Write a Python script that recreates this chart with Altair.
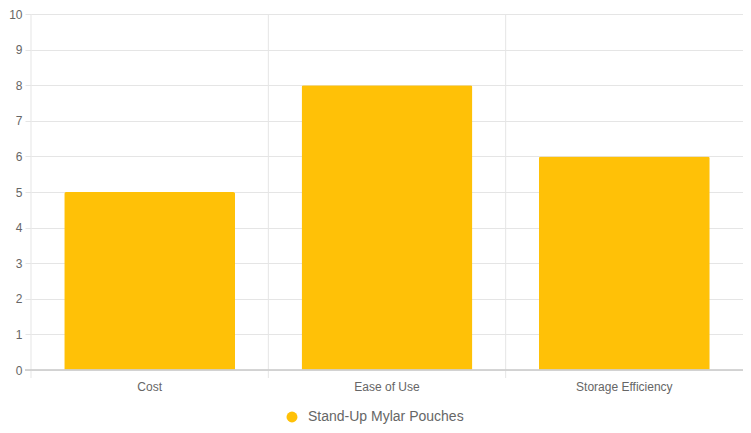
import altair as alt
import pandas as pd

categories = ["Cost", "Ease of Use", "Storage Efficiency"]
values = [5, 8, 6]
series_name = "Stand-Up Mylar Pouches"
bar_color = "#FFC107"
y_ticks = list(range(0, 11))

df = pd.DataFrame({"category": categories, "value": values, "series": [series_name] * len(categories)})
bounds = pd.DataFrame({"b": list(range(len(categories)))})

W, H = 712, 356

bars = alt.Chart(df).mark_bar(
    cornerRadiusTopLeft=2, cornerRadiusTopRight=2
).encode(
    x=alt.X("category:N", sort=categories,
            scale=alt.Scale(paddingInner=0.28, paddingOuter=0.14),
            axis=alt.Axis(title=None, labelAngle=0, ticks=False, domain=False, grid=False,
                          labelPadding=11, labelColor="#666666", labelFontSize=12,
                          labelFont="Arial")),
    y=alt.Y("value:Q", scale=alt.Scale(domain=[0, 10], nice=False),
            axis=alt.Axis(title=None, values=y_ticks, grid=True, gridColor="#e5e5e5",
                          domain=False, tickSize=6, tickColor="#e5e5e5", labelPadding=3,
                          labelColor="#666666", labelFontSize=12, labelFont="Arial")),
    color=alt.Color("series:N", scale=alt.Scale(range=[bar_color]),
                    legend=alt.Legend(title=None, orient="none", legendX=254, legendY=396,
                                      symbolType="circle", symbolSize=120, symbolStrokeWidth=0,
                                      labelFontSize=14, labelColor="#666666", labelFont="Arial",
                                      labelOffset=9)),
)

rules = alt.Chart(bounds).mark_rule(color="#e5e5e5", strokeWidth=1).encode(
    x=alt.X("b:Q", scale=alt.Scale(domain=[0, len(categories)], nice=False, zero=False), axis=None),
    y=alt.value(0),
    y2=alt.value(H + 8),
)

baseline = alt.Chart(bounds).mark_rule(color="#cfcfcf", strokeWidth=1).encode(
    x=alt.value(-6), x2=alt.value(W), y=alt.value(H)
)

chart = alt.layer(rules, bars, baseline).resolve_scale(x="independent").properties(
    width=W, height=H,
    autosize=alt.AutoSizeParams(type="none"),
    padding={"left": 23, "top": 6, "right": 0, "bottom": 55},
).configure_view(stroke=None)

chart.save("out.html", embed_options={"renderer": "svg", "actions": False})
